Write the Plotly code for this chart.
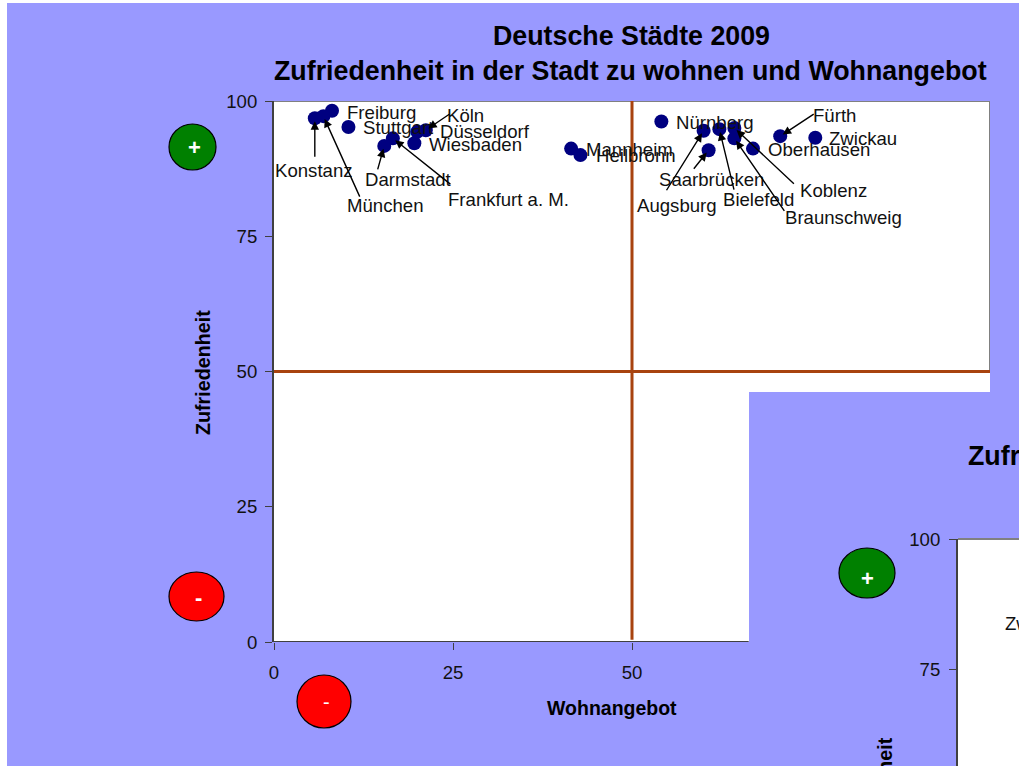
import plotly.graph_objects as go

W, H = 1019, 766
FONT = "Liberation Sans"
BLUE = "#9999FF"
ORANGE = "#A8430F"
NAVY = "#000080"
GRAY = "#808080"
DARK = "#404040"

cities = ["Konstanz", "München", "Freiburg", "Stuttgart", "Darmstadt", "Frankfurt a. M.", "Wiesbaden",
          "Düsseldorf", "Köln", "Mannheim", "Heilbronn", "Nürnberg", "Augsburg", "Saarbrücken",
          "Bielefeld", "Koblenz", "Braunschweig", "Oberhausen", "Fürth", "Zwickau"]
wohnangebot = [5.7, 6.9, 8.1, 10.4, 15.4, 16.6, 19.6, 20.0, 21.2, 41.5, 42.8, 54.1, 60.0, 60.7,
               62.2, 64.3, 64.3, 66.9, 70.7, 75.6]
zufriedenheit = [96.8, 97.2, 98.2, 95.2, 91.7, 93.1, 92.2, 94.3, 94.6, 91.2, 90.0, 96.2, 94.5, 90.9,
                 94.8, 95.0, 93.1, 91.2, 93.5, 93.2]
tick_vals_y = [0, 25, 50, 75, 100]
tick_vals_x = [0, 25, 50]
tick_vals_y2 = [75, 100]


def px(v):
    return v / W


def py(v):
    return 1 - v / H


# label placement: left edge / vertical centre in page pixels
label_pos = {"Konstanz": (275, 171), "München": (347, 205), "Freiburg": (347, 112), "Stuttgart": (363, 128),
             "Darmstadt": (365, 179), "Frankfurt a. M.": (448, 199), "Wiesbaden": (429, 144),
             "Düsseldorf": (440, 131), "Köln": (447, 116), "Mannheim": (586, 150), "Heilbronn": (596, 155),
             "Nürnberg": (676, 123), "Augsburg": (637, 205), "Saarbrücken": (659, 179), "Bielefeld": (723, 199),
             "Koblenz": (800, 191), "Braunschweig": (785, 218), "Oberhausen": (768, 150), "Fürth": (813, 116),
             "Zwickau": (829, 139)}
# leader line tails, offset in pixels from the point
arrow_tail = {"Konstanz": (0, 40), "München": (37, 82), "Darmstadt": (-7, 25), "Frankfurt a. M.": (59, 47),
              "Köln": (25, -17), "Augsburg": (-38, 61), "Saarbrücken": (-16, 20), "Bielefeld": (15, 62),
              "Koblenz": (61, 57), "Braunschweig": (51, 74), "Fürth": (35, -23)}

fig = go.Figure()
fig.add_trace(go.Scatter(x=[50, 50], y=[0.4, 100], mode="lines", line=dict(color=ORANGE, width=3),
                         hoverinfo="skip", showlegend=False))
fig.add_trace(go.Scatter(x=[0, 100], y=[50, 50], mode="lines", line=dict(color=ORANGE, width=3),
                         hoverinfo="skip", showlegend=False))
fig.add_trace(go.Scatter(x=wohnangebot, y=zufriedenheit, mode="markers", text=cities,
                         marker=dict(color=NAVY, size=14), showlegend=False))


def rect(x0, y0, x1, y1, fill):
    return dict(type="rect", xref="paper", yref="paper", x0=px(x0), x1=px(x1), y0=py(y0), y1=py(y1),
                fillcolor=fill, line=dict(width=0), layer="below")


def oval(x0, y0, x1, y1, fill):
    return dict(type="circle", xref="paper", yref="paper", x0=px(x0), x1=px(x1), y0=py(y0), y1=py(y1),
                fillcolor=fill, line=dict(color="black", width=1.2), layer="below")


shapes = [
    rect(7, 3, W, H, BLUE),
    rect(274, 101, 990, 642, "white"),
    dict(type="line", xref="x", yref="y", x0=0, x1=100, y0=100, y1=100, line=dict(color=GRAY, width=2), layer="below"),
    dict(type="line", xref="x", yref="y", x0=100, x1=100, y0=100, y1=50, line=dict(color=GRAY, width=2), layer="below"),
    dict(type="line", xref="x", yref="y", x0=0, x1=66.3, y0=0, y1=0, line=dict(color="black", width=1.5), layer="below"),
    rect(749, 392, W, H, BLUE),
    rect(958, 539, W, H, "white"),
    dict(type="line", xref="paper", yref="paper", x0=px(958), x1=1, y0=py(539), y1=py(539),
         line=dict(color=GRAY, width=2), layer="below"),
    oval(169, 124, 216, 170, "#008000"),
    oval(169, 572, 224, 621, "#FF0000"),
    oval(297, 675, 351, 728, "#FF0000"),
    oval(839, 548, 895, 598, "#008000"),
]

ann = []


def text(s, x, y, size=18.6, bold=False, color="#111111", xanchor="left", yanchor="middle", angle=0):
    ann.append(dict(text=f"<b>{s}</b>" if bold else s, xref="paper", yref="paper", x=px(x), y=py(y),
                    xanchor=xanchor, yanchor=yanchor, showarrow=False, textangle=angle,
                    font=dict(family=FONT, size=size, color=color), borderpad=0, borderwidth=0))


for name in cities:
    lx, ly = label_pos[name]
    text(name, lx, ly)
text("Zwickau", 1005, 623)

for i, name in enumerate(cities):
    if name in arrow_tail:
        ax, ay = arrow_tail[name]
        ann.append(dict(text="", x=wohnangebot[i], y=zufriedenheit[i], xref="x", yref="y", ax=ax, ay=ay,
                        showarrow=True, arrowhead=2, arrowsize=1.2, arrowwidth=1.4, arrowcolor="black", standoff=3))

text("Deutsche Städte 2009", 631, 36, size=26.8, bold=True, color="black", xanchor="center")
text("Zufriedenheit in der Stadt zu wohnen und Wohnangebot", 630, 71, size=26.8, bold=True, color="black", xanchor="center")
text("Zufriedenheit in der Stadt zu wohnen und Wohnangebot", 968, 456, size=26.8, bold=True, color="black")
text("Wohnangebot", 612, 708, size=19.5, bold=True, color="black", xanchor="center")
text("Zufriedenheit", 203, 373, size=19.7, bold=True, color="black", xanchor="center", angle=-90)
text("Zufriedenheit", 884, 738, size=19.7, bold=True, color="black", xanchor="center", yanchor="top", angle=-90)
text("+", 194, 148, size=22, bold=True, color="white", xanchor="center")
text("-", 198, 597, size=22, bold=True, color="white", xanchor="center")
text("-", 326, 702, size=20, color="white", xanchor="center")
text("+", 867, 578, size=22, bold=True, color="white", xanchor="center")

axis_common = dict(showgrid=False, zeroline=False, ticks="outside", ticklen=7, tickwidth=1, tickcolor=DARK,
                   tickfont=dict(family=FONT, size=18.6, color="#111111"))

fig.update_layout(
    width=W, height=H, margin=dict(l=0, r=0, t=0, b=0, autoexpand=False), autosize=False,
    paper_bgcolor="white", plot_bgcolor="rgba(0,0,0,0)", showlegend=False,
    shapes=shapes, annotations=ann,
    xaxis=dict(domain=[px(274), px(990)], range=[0, 100], tickmode="array", tickvals=tick_vals_x,
               showline=False, anchor="y", ticklabelstandoff=7, **axis_common),
    yaxis=dict(domain=[py(642), py(101)], range=[0, 100], tickmode="array", tickvals=tick_vals_y,
               showline=True, linecolor=DARK, linewidth=2, anchor="x", ticklabelstandoff=4, **axis_common),
    xaxis2=dict(domain=[px(958), 1], range=[0, 1], visible=False, anchor="y2"),
    yaxis2=dict(domain=[0, py(539)], range=[56.35, 100], tickmode="array", tickvals=tick_vals_y2,
                showline=True, linecolor=DARK, linewidth=2, anchor="x2", ticklabelstandoff=5, **axis_common),
)
fig.add_trace(go.Scatter(x=[], y=[], xaxis="x2", yaxis="y2", showlegend=False))

fig.write_html("out.html", config=dict(displayModeBar=False),
               post_script="document.body.style.margin='0';document.body.style.overflow='hidden';")
